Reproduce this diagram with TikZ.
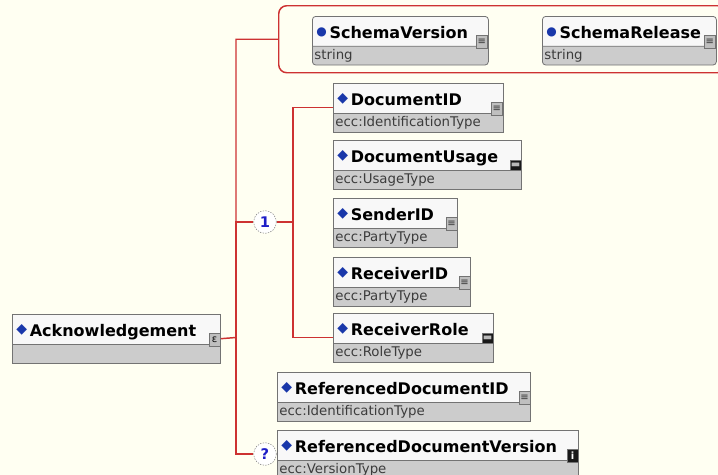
\documentclass[tikz,border=0pt]{standalone}
\usepackage{fontspec}
\setmainfont{DejaVu Sans}
\usepackage{tikz}
\usetikzlibrary{positioning}
\usetikzlibrary{shapes.multipart}

\definecolor{fondo}{RGB}{255,255,242}
\definecolor{rojo}{RGB}{205,50,50}
\definecolor{borde}{RGB}{115,115,115}
\definecolor{cabeza}{RGB}{248,248,248}
\definecolor{banda}{RGB}{204,204,204}
\definecolor{azul}{RGB}{25,55,170}
\definecolor{azulc}{RGB}{30,30,200}
\definecolor{tipogris}{RGB}{60,60,60}

\newcommand{\rombo}{\raisebox{2.6pt}{\textcolor{azul}{\fontsize{10.5}{10.5}\selectfont ◆}}}
\newcommand{\bola}{\raisebox{2.8pt}{\textcolor{azul}{\fontsize{9}{9}\selectfont ●}}}
\newcommand{\cab}[2]{\rule[-5.25pt]{0pt}{21.75pt}\hspace{1.5pt}#1\hspace{2pt}\textbf{#2}}
\newcommand{\tipo}[1]{\rule[-4pt]{0pt}{13.5pt}{\fontsize{10}{10}\selectfont\color{tipogris}#1}}

\begin{document}
\begin{tikzpicture}[x=0.75pt, y=-0.75pt,
    caja/.style={rectangle split, rectangle split parts=2,
      rectangle split part fill={cabeza,banda},
      rectangle split part align={left,left},
      draw=borde, line width=0.6pt, inner xsep=1.5pt, inner ysep=0pt,
      anchor=north west, font=\fontsize{12}{14}\selectfont},
    atributo/.style={caja, rounded corners=2.5pt},
    icono/.style={draw=borde, line width=0.4pt, inner sep=0pt,
      minimum width=8pt, minimum height=9.5pt, anchor=south east,
      font=\fontsize{7.5}{7.5}\selectfont},
    lista/.style={icono, fill=gray!50, text=black!80},
    enum/.style={icono, fill=gray!20!black, text=gray!55, minimum height=7.5pt},
    info/.style={icono, fill=gray!20!black, text=white,
      font=\fontsize{7.5}{7.5}\selectfont\bfseries},
    compo/.style={circle, draw=gray, dash pattern=on 1pt off 1pt, fill=white,
      minimum size=17pt, inner sep=0pt, text=azulc,
      font=\fontsize{11}{11}\selectfont\bfseries},
    linea/.style={draw=rojo, line width=1.1pt},
    grupo/.style={draw=rojo, line width=1.1pt, rounded corners=6pt,
      anchor=north west, inner sep=0pt}]
  \useasboundingbox (0,0) rectangle (718,475);
  \fill[fondo] (0,0) rectangle (718,475);
  \clip (0,0) rectangle (718,475);

  % Cajas
  \node[grupo, minimum width=335.25pt, minimum height=50.25pt] (atr) at (278,5) {};
  \node[atributo, minimum width=132pt] (sver) at (312,16) {\cab{\bola}{SchemaVersion}\nodepart{two}\tipo{string}};
  \node[atributo, minimum width=130.5pt] (srel) at (542,16) {\cab{\bola}{SchemaRelease}\nodepart{two}\tipo{string}};
  \node[caja, minimum width=156pt] (ack) at (12,314) {\cab{\rombo}{Acknowledgement}\nodepart{two}\tipo{}};
  \node[caja, minimum width=127.5pt] (docid) at (333,83) {\cab{\rombo}{DocumentID}\nodepart{two}\tipo{ecc:IdentificationType}};
  \node[caja, minimum width=141pt] (docuse) at (333,140) {\cab{\rombo}{DocumentUsage}\nodepart{two}\tipo{ecc:UsageType}};
  \node[caja, minimum width=93pt] (sender) at (333,198) {\cab{\rombo}{SenderID}\nodepart{two}\tipo{ecc:PartyType}};
  \node[caja, minimum width=102.75pt] (recid) at (333,257) {\cab{\rombo}{ReceiverID}\nodepart{two}\tipo{ecc:PartyType}};
  \node[caja, minimum width=120pt] (rrole) at (333,313) {\cab{\rombo}{ReceiverRole}\nodepart{two}\tipo{ecc:RoleType}};
  \node[caja, minimum width=189.75pt] (refid) at (277,372) {\cab{\rombo}{ReferencedDocumentID}\nodepart{two}\tipo{ecc:IdentificationType}};
  \node[caja, minimum width=225.75pt] (refver) at (277,430) {\cab{\rombo}{ReferencedDocumentVersion}\nodepart{two}\tipo{ecc:VersionType}};

  % Iconos
  \node[lista] (sver-i) at ([xshift=-1pt,yshift=-1.5pt]sver.text split east) {≡};
  \node[lista] (srel-i) at ([xshift=-1pt,yshift=-1.5pt]srel.text split east) {≡};
  \node[lista, text=black] (ack-i) at ([xshift=-0.5pt,yshift=-1.5pt]ack.text split east) {ε};
  \node[lista] (docid-i) at ([xshift=-1pt,yshift=-1.5pt]docid.text split east) {≡};
  \node[enum] (docuse-i) at ([xshift=-0.5pt,yshift=-0.5pt]docuse.text split east) {▬};
  \node[lista] (sender-i) at ([xshift=-0.5pt,yshift=-1.5pt]sender.text split east) {≡};
  \node[lista] (recid-i) at ([xshift=-0.5pt,yshift=-1.5pt]recid.text split east) {≡};
  \node[enum] (rrole-i) at ([xshift=-0.5pt,yshift=-0.5pt]rrole.text split east) {▬};
  \node[lista] (refid-i) at ([xshift=-0.5pt,yshift=-1.5pt]refid.text split east) {≡};
  \node[info] (refver-i) at ([xshift=-0.5pt,yshift=-1.5pt]refver.text split east) {i};

  % Compositores
  \node[compo] (uno) at (265,222) {1};
  \node[compo] (opc) at (265,454) {?};
  \coordinate (nudo) at (236,337.5);
  \coordinate (rama) at (293,222);

  % Conexiones
  \draw[linea] (ack.east) -- (nudo) |- (atr.west);
  \draw[linea] (nudo) |- (uno.west);
  \draw[linea] (nudo) |- (opc.west);
  \draw[linea] (uno) -- (rama);
  \draw[linea] (docid.west) -| (rama) |- (rrole.west);
\end{tikzpicture}
\end{document}
